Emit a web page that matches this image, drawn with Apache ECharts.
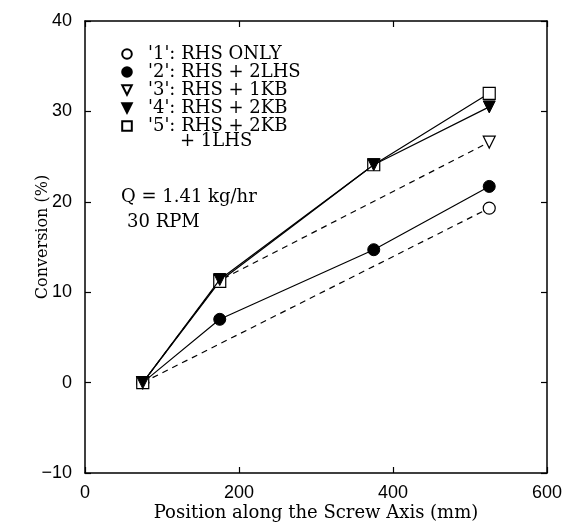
<!DOCTYPE html>
<html>
<head>
<meta charset="utf-8">
<script src="https://cdn.jsdelivr.net/npm/echarts@6/dist/echarts.min.js"></script>
<style>html,body{margin:0;padding:0;background:#fff}#c{width:565px;height:531px}</style>
</head>
<body>
<div id="c"></div>
<script>
// Data
const positions1 = [75, 525];
const conv1 = [0, 19.3];
const positions2 = [75, 175, 375, 525];
const conv2 = [0, 7.0, 14.7, 21.7];
const positions3 = [75, 175, 525];
const conv3 = [0, 11.3, 26.6];
const positions4 = [75, 175, 375, 525];
const conv4 = [0, 11.4, 24.1, 30.5];
const positions5 = [75, 175, 375, 525];
const conv5 = [0, 11.2, 24.1, 32.0];
const seriesNames = ["'1': RHS ONLY", "'2': RHS + 2LHS", "'3': RHS + 1KB", "'4': RHS + 2KB", "'5': RHS + 2KB"];
const xTicks = {min: 0, max: 600, interval: 200};
const yTicks = {min: -10, max: 40, interval: 10};

const pairs = (xs, ys) => xs.map((x, i) => [x, ys[i]]);
const DOWN = 'path://M0,0 L10,0 L5,9 Z';
const SERIF = 'DejaVu Serif';
const SANS = 'Liberation Sans';

function mk(name, xs, ys, symbol, filled, dashed, z) {
  return {
    name: name, type: 'line', data: pairs(xs, ys), symbol: symbol, symbolSize: 12,
    z: z,
    itemStyle: filled ? {color: '#000', borderColor: '#000', borderWidth: 1}
                      : {color: '#fff', borderColor: '#000', borderWidth: 1.2},
    lineStyle: {color: '#000', width: 1.2, type: dashed ? [6, 5] : 'solid'},
    emphasis: {disabled: true}, animation: false
  };
}

const chart = echarts.init(document.getElementById('c'), null, {renderer: 'canvas'});
function axisCommon() {
  return {
    nameMoveOverlap: false,
    axisLine: {show: true, onZero: false, lineStyle: {color: '#000', width: 1.5}},
    axisTick: {show: true, inside: true, length: 6, lineStyle: {color: '#000', width: 1.2}},
    splitLine: {show: false}
  };
}
const minusFmt = v => String(v).replace('-', '\u2212');
chart.setOption({
  animation: false,
  backgroundColor: '#fff',
  grid: {left: 85, right: 18, top: 21, bottom: 58},
  xAxis: [
    Object.assign({type: 'value', min: xTicks.min, max: xTicks.max, interval: xTicks.interval,
      name: 'Position along the Screw Axis (mm)', nameLocation: 'middle', nameGap: 31,
      nameTextStyle: {fontFamily: SERIF, fontSize: 18, color: '#000'},
      axisLabel: {fontFamily: SANS, fontSize: 18, color: '#000', margin: 11}}, axisCommon()),
    Object.assign({type: 'value', position: 'top', min: xTicks.min, max: xTicks.max, interval: xTicks.interval,
      axisLabel: {show: false}}, axisCommon())
  ],
  yAxis: [
    Object.assign({type: 'value', min: yTicks.min, max: yTicks.max, interval: yTicks.interval,
      name: 'Conversion (%)', nameLocation: 'middle', nameGap: 34,
      nameTextStyle: {fontFamily: SERIF, fontSize: 16, color: '#000', padding: [0, 0, 0, 20]},
      axisLabel: {fontFamily: SANS, fontSize: 18, color: '#000', margin: 13, formatter: minusFmt}}, axisCommon()),
    Object.assign({type: 'value', position: 'right', min: yTicks.min, max: yTicks.max, interval: yTicks.interval,
      axisLabel: {show: false}}, axisCommon())
  ],
  legend: {
    orient: 'vertical', left: 106, top: 40,
    itemWidth: 32, itemHeight: 12, itemGap: 0,
    lineStyle: {opacity: 0, width: 0},
    textStyle: {fontFamily: SERIF, fontSize: 18, color: '#000', lineHeight: 17.5},
    selectedMode: false,
    data: seriesNames
  },
  graphic: [
    {type: 'text', left: 180, top: 132, style: {text: '+ 1LHS', font: '18px "DejaVu Serif"', fill: '#000'}},
    {type: 'text', left: 121, top: 188, style: {text: 'Q = 1.41 kg/hr', font: '18px "DejaVu Serif"', fill: '#000'}},
    {type: 'text', left: 127, top: 213, style: {text: '30 RPM', font: '18px "DejaVu Serif"', fill: '#000'}}
  ],
  series: [
    mk(seriesNames[0], positions1, conv1, 'circle', false, true, 2),
    mk(seriesNames[1], positions2, conv2, 'circle', true, false, 3),
    mk(seriesNames[2], positions3, conv3, DOWN, false, true, 4),
    mk(seriesNames[4], positions5, conv5, 'rect', false, false, 5),
    mk(seriesNames[3], positions4, conv4, DOWN, true, false, 6)
  ]
});
</script>
</body>
</html>
